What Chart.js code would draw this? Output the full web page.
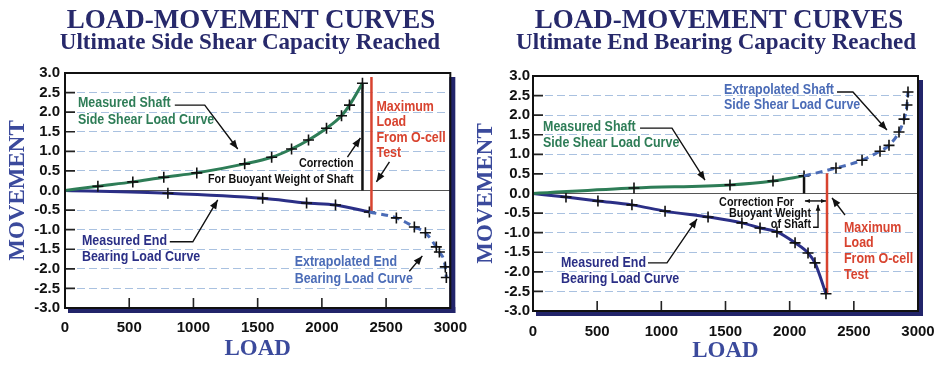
<!DOCTYPE html>
<html>
<head>
<meta charset="utf-8">
<script src="https://cdn.jsdelivr.net/npm/chart.js@4.4.1/dist/chart.umd.min.js"></script>
<style>
body { margin: 0; background: #fff; }
#wrap { position: relative; width: 941px; height: 371px; overflow: hidden; }
.box { position: absolute; top: 0; height: 371px; }
.t1, .t2 { position: absolute; white-space: nowrap; transform: translateX(-50%);
  font-family: "Liberation Serif", "Times New Roman", serif; font-weight: bold; color: #27296b; line-height: 1; }
.t1 { font-size: 27px; top: 6px; }
.t2 { font-size: 23px; top: 30px; }
</style>
</head>
<body>
<div id="wrap">
  <div class="box" style="left:0;width:470px"><canvas id="left"></canvas></div>
  <div class="box" style="left:470px;width:471px"><canvas id="right"></canvas></div>
  <div class="t1" style="left:251px">LOAD-MOVEMENT CURVES</div>
  <div class="t2" style="left:250px">Ultimate Side Shear Capacity Reached</div>
  <div class="t1" style="left:719px">LOAD-MOVEMENT CURVES</div>
  <div class="t2" style="left:716px">Ultimate End Bearing Capacity Reached</div>
</div>
<script>
// axis ticks
const loadTicks = [0, 500, 1000, 1500, 2000, 2500, 3000];
const moveTicks = [3.0, 2.5, 2.0, 1.5, 1.0, 0.5, 0.0, -0.5, -1.0, -1.5, -2.0, -2.5, -3.0];

// left: ultimate side shear capacity reached
const sideShaftLoad = [0, 256, 528, 769, 1026, 1399, 1609, 1764, 1896, 2036, 2153, 2215, 2316];
const sideShaftMove = [0, 0.11, 0.22, 0.34, 0.45, 0.68, 0.85, 1.06, 1.29, 1.59, 1.91, 2.18, 2.74];
const sideEndLoad = [0, 801, 1539, 1881, 2106, 2370];
const sideEndMove = [0, -0.07, -0.20, -0.32, -0.37, -0.55];
const sideEndExtLoad = [2370, 2580, 2720, 2806, 2891, 2915, 2961, 2969];
const sideEndExtMove = [-0.55, -0.70, -0.93, -1.08, -1.44, -1.57, -1.95, -2.22];
const sideCorrLoad = [2316, 2316];
const sideCorrMove = [0, 2.74];
const sideMaxLoad = [2386, 2386];
const sideMaxMove = [2.9, -0.55];

// right: ultimate end bearing capacity reached
const endShaftLoad = [0, 787, 1535, 1870, 2112];
const endShaftMove = [0, 0.14, 0.22, 0.32, 0.45];
const endShaftExtLoad = [2112, 2361, 2564, 2704, 2774, 2852, 2891, 2914, 2922];
const endShaftExtMove = [0.45, 0.65, 0.85, 1.08, 1.23, 1.57, 1.90, 2.26, 2.59];
const endEndLoad = [0, 257, 506, 771, 1029, 1364, 1628, 1769, 1901, 2042, 2143, 2197, 2283];
const endEndMove = [0, -0.09, -0.19, -0.29, -0.45, -0.60, -0.75, -0.88, -0.98, -1.26, -1.52, -1.77, -2.56];
const endCorrLoad = [2112, 2112];
const endCorrMove = [0, 0.45];
const endMaxLoad = [2291, 2291];
const endMaxMove = [0.52, -2.56];

const GREEN = '#2e7d57', NAVY = '#2b2f86', LBLUE = '#4b6cb7', RED = '#d8432f', INK = '#111';

// notes are placed in load / movement units
const sideNotes = [
  { t: 'Measured Shaft', x: 101, y: 2.23, c: GREEN },
  { t: 'Side Shear Load Curve', x: 101, y: 1.80, c: GREEN },
  { a: [[855, 2.18], [1088, 2.18], [1345, 1.06]] },
  { t: 'Correction', x: 2246, y: 0.68, c: INK, al: 'right', s: 13 },
  { t: 'For Buoyant Weight of Shaft', x: 2246, y: 0.29, c: INK, al: 'right', s: 13 },
  { a: [[2199, 0.85], [2300, 1.34]] },
  { t: 'Maximum', x: 2425, y: 2.13, c: RED },
  { t: 'Load', x: 2425, y: 1.74, c: RED },
  { t: 'From O-cell', x: 2425, y: 1.34, c: RED },
  { t: 'Test', x: 2425, y: 0.95, c: RED },
  { a: [[2526, 0.73], [2425, 0.22]] },
  { t: 'Measured End', x: 132, y: -1.29, c: NAVY },
  { t: 'Bearing Load Curve', x: 132, y: -1.70, c: NAVY },
  { a: [[816, -1.31], [995, -1.31], [1189, -0.24]] },
  { t: 'Extrapolated End', x: 1788, y: -1.83, c: LBLUE },
  { t: 'Bearing Load Curve', x: 1788, y: -2.26, c: LBLUE },
  { a: [[2681, -2.06], [2782, -1.67]] }
];
const endNotes = [
  { t: 'Extrapolated Shaft', x: 1488, y: 2.64, c: LBLUE },
  { t: 'Side Shear Load Curve', x: 1488, y: 2.26, c: LBLUE },
  { a: [[2369, 2.59], [2493, 2.59], [2758, 1.62]] },
  { t: 'Measured Shaft', x: 78, y: 1.70, c: GREEN },
  { t: 'Side Shear Load Curve', x: 78, y: 1.29, c: GREEN },
  { a: [[834, 1.67], [1083, 1.67], [1340, 0.34]] },
  { t: 'Correction For', x: 2034, y: -0.22, c: INK, al: 'right', s: 13 },
  { t: 'Buoyant Weight', x: 2166, y: -0.50, c: INK, al: 'right', s: 13 },
  { t: 'of Shaft', x: 2166, y: -0.80, c: INK, al: 'right', s: 13 },
  { a: [[2119, -0.19], [2283, -0.19]], both: true, h: 5 },
  { a: [[2182, -0.86], [2221, -0.86], [2221, -0.29]], h: 6 },
  { t: 'Maximum', x: 2423, y: -0.88, c: RED },
  { t: 'Load', x: 2423, y: -1.26, c: RED },
  { t: 'From O-cell', x: 2423, y: -1.67, c: RED },
  { t: 'Test', x: 2423, y: -2.08, c: RED },
  { a: [[2431, -0.55], [2330, -0.11]] },
  { t: 'Measured End', x: 218, y: -1.77, c: NAVY },
  { t: 'Bearing Load Curve', x: 218, y: -2.18, c: NAVY },
  { a: [[896, -1.77], [1044, -1.77], [1278, -0.65]] }
];

function pts(xs, ys) {
  return xs.map((x, i) => ({ x: x, y: ys[i] }));
}

function curve(xs, ys, color, dashed) {
  return {
    data: pts(xs, ys),
    showLine: true,
    borderColor: color,
    borderWidth: 3,
    borderDash: dashed ? [7, 5] : [],
    cubicInterpolationMode: 'monotone',
    pointStyle: 'cross',
    pointRadius: c => c.dataIndex === 0 ? 0 : 5.5,
    pointHoverRadius: 0,
    pointBorderColor: INK,
    pointBorderWidth: 1.6
  };
}

function vline(xs, ys, color) {
  return {
    data: pts(xs, ys),
    showLine: true,
    borderColor: color,
    borderWidth: 2.5,
    tension: 0,
    pointRadius: 0,
    pointHoverRadius: 0
  };
}

function tip(ctx, a, b, h) {
  const ang = Math.atan2(b[1] - a[1], b[0] - a[0]);
  ctx.beginPath();
  ctx.moveTo(b[0], b[1]);
  ctx.lineTo(b[0] - h * Math.cos(ang) + h * 0.4 * Math.sin(ang), b[1] - h * Math.sin(ang) - h * 0.4 * Math.cos(ang));
  ctx.lineTo(b[0] - h * Math.cos(ang) - h * 0.4 * Math.sin(ang), b[1] - h * Math.sin(ang) + h * 0.4 * Math.cos(ang));
  ctx.closePath();
  ctx.fill();
}

function notesPlugin(items) {
  return {
    id: 'notes',
    beforeDatasetsDraw(chart) {
      const { ctx, chartArea: a, scales: { x, y } } = chart;
      ctx.save();
      const y0 = y.getPixelForValue(0);
      ctx.strokeStyle = '#555';
      ctx.lineWidth = 1.2;
      ctx.beginPath();
      ctx.moveTo(a.left, y0);
      ctx.lineTo(a.right, y0);
      ctx.stroke();
      // short tick marks inside the frame
      ctx.strokeStyle = '#222';
      ctx.lineWidth = 1.6;
      ctx.beginPath();
      y.ticks.forEach(t => {
        const p = y.getPixelForValue(t.value);
        ctx.moveTo(a.left, p);
        ctx.lineTo(a.left + 10, p);
      });
      x.ticks.forEach(t => {
        if (t.value <= 0 || t.value >= 3000) return;
        const p = x.getPixelForValue(t.value);
        ctx.moveTo(p, a.bottom);
        ctx.lineTo(p, a.bottom - 10);
      });
      ctx.stroke();
      ctx.restore();
    },
    afterDatasetsDraw(chart) {
      const { ctx, chartArea: a, scales: { x, y } } = chart;
      ctx.save();
      // frame with dark shadow
      ctx.fillStyle = '#22246a';
      ctx.fillRect(a.right - 1, a.top + 4, 6, a.bottom - a.top + 1);
      ctx.fillRect(a.left + 3, a.bottom - 1, a.right - a.left + 2, 6);
      ctx.strokeStyle = INK;
      ctx.lineWidth = 2;
      ctx.strokeRect(a.left, a.top, a.right - a.left, a.bottom - a.top);

      items.forEach(n => {
        if (n.a) {
          const p = n.a.map(q => [x.getPixelForValue(q[0]), y.getPixelForValue(q[1])]);
          const h = n.h || 9;
          ctx.strokeStyle = INK;
          ctx.fillStyle = INK;
          ctx.lineWidth = 1.4;
          ctx.beginPath();
          ctx.moveTo(p[0][0], p[0][1]);
          for (let i = 1; i < p.length; i++) ctx.lineTo(p[i][0], p[i][1]);
          ctx.stroke();
          tip(ctx, p[p.length - 2], p[p.length - 1], h);
          if (n.both) tip(ctx, p[1], p[0], h);
          return;
        }
        ctx.save();
        ctx.translate(x.getPixelForValue(n.x), y.getPixelForValue(n.y));
        ctx.scale(0.83, 1);
        ctx.font = 'bold ' + (n.s || 15) + 'px "Liberation Sans", Arial, sans-serif';
        ctx.fillStyle = n.c;
        ctx.textAlign = n.al || 'left';
        ctx.textBaseline = 'middle';
        ctx.fillText(n.t, 0, 0);
        ctx.restore();
      });
      ctx.restore();
    }
  };
}

function makeChart(id, datasets, items, box) {
  new Chart(document.getElementById(id), {
    type: 'scatter',
    data: { datasets: datasets },
    options: {
      responsive: true,
      maintainAspectRatio: false,
      animation: false,
      events: [],
      layout: { padding: { top: box.top, right: box.right, left: 0, bottom: 0 } },
      plugins: { legend: { display: false }, tooltip: { enabled: false } },
      scales: {
        x: {
          type: 'linear',
          min: 0,
          max: 3000,
          afterBuildTicks: s => { s.ticks = loadTicks.map(v => ({ value: v })); },
          afterFit: s => { s.height = box.xh; },
          ticks: {
            autoSkip: false,
            maxRotation: 0,
            padding: box.xpad,
            color: INK,
            callback: v => String(v),
            font: { family: '"Liberation Sans", Arial, sans-serif', size: 15, weight: 'bold' }
          },
          grid: { display: false },
          border: { display: false },
          title: {
            display: true,
            text: 'LOAD',
            color: '#3b4a9c',
            padding: { top: 0, bottom: box.tb },
            font: { family: '"Liberation Serif", "Times New Roman", serif', size: 23, weight: 'bold' }
          }
        },
        y: {
          type: 'linear',
          min: -3,
          max: 3,
          afterBuildTicks: s => { s.ticks = moveTicks.map(v => ({ value: v })); },
          afterFit: s => { s.width = box.yw; },
          ticks: {
            autoSkip: false,
            padding: box.ypad,
            color: INK,
            callback: v => v.toFixed(1),
            font: { family: '"Liberation Sans", Arial, sans-serif', size: 15, weight: 'bold' }
          },
          grid: { color: '#a9c1e0', lineWidth: 1, drawTicks: false },
          border: { display: false, dash: [8, 4] },
          title: {
            display: true,
            text: 'MOVEMENT',
            color: '#3b4a9c',
            padding: { top: box.tl, bottom: 0 },
            font: { family: '"Liberation Serif", "Times New Roman", serif', size: 23, weight: 'bold' }
          }
        }
      }
    },
    plugins: [notesPlugin(items)]
  });
}

makeChart('left', [
  curve(sideShaftLoad, sideShaftMove, GREEN, false),
  curve(sideEndExtLoad, sideEndExtMove, LBLUE, true),
  curve(sideEndLoad, sideEndMove, NAVY, false),
  vline(sideCorrLoad, sideCorrMove, INK),
  vline(sideMaxLoad, sideMaxMove, RED)
], sideNotes, { top: 73, right: 19, xh: 63, yw: 65, xpad: 3, ypad: 5, tb: 8, tl: 4 });

makeChart('right', [
  curve(endShaftExtLoad, endShaftExtMove, LBLUE, true),
  curve(endShaftLoad, endShaftMove, GREEN, false),
  curve(endEndLoad, endEndMove, NAVY, false),
  vline(endCorrLoad, endCorrMove, INK),
  vline(endMaxLoad, endMaxMove, RED)
], endNotes, { top: 76, right: 23, xh: 60, yw: 63, xpad: 4, ypad: 3, tb: 6, tl: 2 });
</script>
</body>
</html>
